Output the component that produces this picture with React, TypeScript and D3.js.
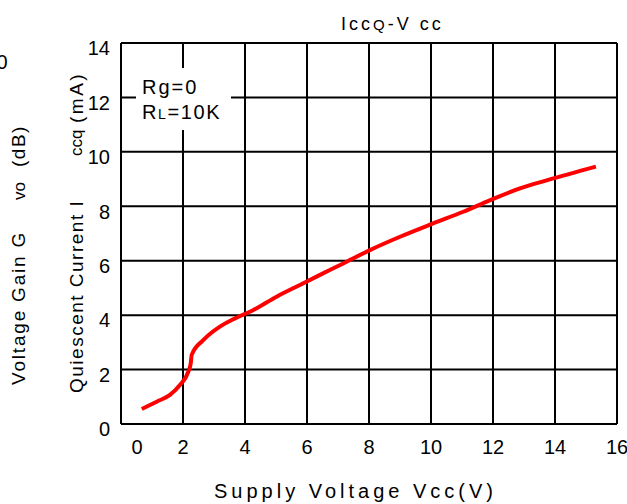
import * as d3 from "d3";

// Supply voltage (V) and quiescent current (mA)
const vcc = [0.67, 1.15, 1.58, 1.9, 2.17, 2.25, 2.28, 2.66, 3.19, 3.62, 4.27, 5.02, 5.77, 6.42, 7.17, 8.03, 9.0, 10.07, 11.04, 11.8, 12.87, 13.78, 15.32];
const iccq = [0.55, 0.82, 1.07, 1.43, 1.92, 2.23, 2.54, 3.09, 3.58, 3.85, 4.19, 4.68, 5.11, 5.48, 5.9, 6.39, 6.88, 7.37, 7.8, 8.17, 8.66, 8.97, 9.46];

const xTicks = [0, 2, 4, 6, 8, 10, 12, 14, 16];
const yTicks = [0, 2, 4, 6, 8, 10, 12, 14];

const width = 627;
const height = 504;
const marginLeft = 121;
const marginRight = 10;
const marginTop = 43;
const marginBottom = 80;

const font = "'Liberation Sans', Arial, sans-serif";

const rot = (px: number, py: number) => `translate(${px},${py}) rotate(-90)`;

export default function App() {
  const x = d3.scaleLinear().domain([0, 16]).range([marginLeft, width - marginRight]);
  const y = d3.scaleLinear().domain([0, 14]).range([height - marginBottom, marginTop]);

  const line = d3
    .line<number>()
    .x((_, i) => x(vcc[i]))
    .y((d) => y(d))
    .curve(d3.curveMonotoneX);

  return (
    <svg
      width={width}
      height={height}
      style={{ position: "absolute", left: 0, top: 0, background: "#fff" }}
      fontFamily={font}
    >
      {/* cut-off text from the neighbouring chart */}
      <text x={2} y={69} fontSize={20} textAnchor="middle">0</text>
      <text transform={rot(25, 385)} fontSize={19} letterSpacing={1.8}>Voltage Gain G</text>
      <text transform={rot(25, 200)} fontSize={17}>vo</text>
      <text transform={rot(25, 167)} fontSize={19} letterSpacing={1.5}>(dB)</text>

      {/* grid */}
      <g stroke="#000" strokeWidth={2}>
        {xTicks.map((t) => (
          <line key={"gx" + t} x1={x(t)} x2={x(t)} y1={y(0)} y2={y(14)} />
        ))}
        {yTicks.map((t) => (
          <line key={"gy" + t} x1={x(0)} x2={x(16)} y1={y(t)} y2={y(t)} />
        ))}
      </g>

      {/* parameter box */}
      <rect x={136} y={68} width={95} height={62} fill="#fff" />
      <text x={142} y={94} fontSize={20} letterSpacing={2}>Rg=0</text>
      <text x={142} y={119} fontSize={20} letterSpacing={1.6}>
        R<tspan fontSize={14}>L</tspan>=10K
      </text>

      {/* curve */}
      <path d={line(iccq) ?? ""} fill="none" stroke="#ff0000" strokeWidth={4} strokeLinejoin="round" />

      {/* tick labels */}
      <g fontSize={20}>
        {yTicks.map((t) => (
          <text key={"ly" + t} x={110} y={y(t) + 7} textAnchor="end" dominantBaseline="middle">
            {t}
          </text>
        ))}
        {xTicks.map((t) => (
          <text key={"lx" + t} x={x(t) + (t === 0 ? 16 : 0)} y={454} textAnchor="middle">
            {t}
          </text>
        ))}
      </g>

      {/* axis titles */}
      <text transform={rot(83, 393)} fontSize={19} letterSpacing={1.5}>Quiescent Current I</text>
      <text transform={rot(82, 156)} fontSize={17}>ccq</text>
      <text transform={rot(83, 123)} fontSize={19} letterSpacing={2.5}>(mA)</text>
      <text x={341} y={30} fontSize={18} letterSpacing={3}>
        Icc<tspan fontSize={15}>Q</tspan>-V cc
      </text>
      <text x={214} y={498} fontSize={20} letterSpacing={4}>
        Supply Voltage Vcc(V)
      </text>
    </svg>
  );
}
